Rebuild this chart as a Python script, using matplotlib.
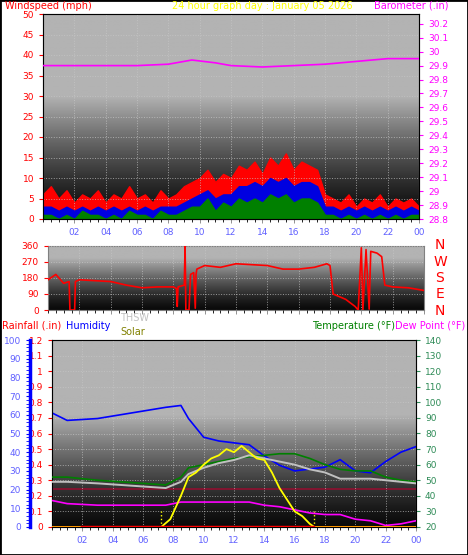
import numpy as np
import matplotlib
matplotlib.use('Agg')
import matplotlib.pyplot as plt

# --- data (hours 0..24) ---
wind_hours = np.arange(0, 24.5, 0.5)
gust = [6, 8, 5, 7, 4, 6, 5, 7, 4, 6, 5, 8, 5, 6, 4, 7, 5, 6, 8, 9, 10, 12, 9, 11, 10,
        13, 12, 14, 11, 15, 13, 16, 12, 14, 13, 12, 6, 5, 4, 6, 3, 5, 4, 6, 3, 5, 4, 5, 3]
wind_avg = [3, 3, 2, 3, 2, 3, 2, 3, 2, 3, 2, 3, 2, 3, 2, 3, 3, 3, 4, 5, 6, 7, 5, 6, 6,
            8, 8, 9, 8, 10, 9, 10, 8, 9, 9, 8, 3, 3, 2, 3, 2, 3, 2, 3, 2, 3, 2, 3, 2]
wind_low = [1, 1, 0, 1, 0, 2, 1, 1, 0, 1, 0, 2, 1, 1, 0, 2, 1, 1, 2, 3, 3, 5, 2, 4, 3,
            5, 4, 5, 4, 6, 5, 6, 4, 5, 5, 4, 1, 1, 0, 1, 0, 1, 0, 1, 0, 1, 0, 1, 1]

baro_hours = [0, 2, 4, 6, 8, 9.5, 11, 12, 14, 16, 18, 20, 22, 24]
baro = [29.90, 29.90, 29.90, 29.90, 29.91, 29.94, 29.92, 29.90, 29.89, 29.90, 29.91, 29.93, 29.95, 29.95]

dir_hours = [0, 0.5, 1, 1.35, 1.4, 1.7, 1.75, 2, 3, 4, 5, 6, 7, 8, 8.2, 8.25, 8.3, 8.7, 8.75, 8.8,
             9.0, 9.1, 9.3, 9.4, 9.45, 9.5, 10, 11, 12, 13, 14, 15, 16, 17, 17.8, 18.0, 18.2, 19,
             19.6, 19.8, 20.0, 20.1, 20.3, 20.5, 20.6, 21, 21.3, 21.5, 22, 23, 24]
wind_dir = [170, 200, 150, 160, 0, 0, 160, 170, 165, 160, 140, 125, 130, 130, 120, 20, 130, 140, 360, 0,
            0, 200, 210, 10, 200, 230, 250, 240, 260, 255, 250, 230, 230, 240, 260, 250, 90, 60,
            20, 0, 350, 0, 340, 5, 330, 320, 300, 140, 130, 125, 110]

t_hours = [0, 1, 3, 6, 7.5, 8.5, 9, 10, 11, 12, 13, 14, 15, 16, 17, 18, 19, 20, 21, 22, 23, 24]
humidity = [61, 57, 58, 62, 64, 65, 58, 48, 46, 45, 44, 38, 33, 30, 31, 32, 36, 30, 29, 35, 40, 43]
temperature = [52, 52, 50, 48, 47, 52, 58, 60, 62, 64, 65, 66, 67, 67, 64, 60, 57, 56, 56, 52, 50, 49]
thsw = [49, 49, 48, 46, 45, 49, 54, 58, 61, 63, 66, 64, 62, 60, 57, 55, 51, 51, 51, 50, 49, 48]
dew_point = [37, 35, 34, 34, 34, 36, 36, 36, 36, 36, 36, 34, 33, 31, 29, 28, 28, 25, 24, 21, 22, 24]

solar_hours = [0, 7.2, 7.8, 8.5, 9, 9.5, 10, 10.5, 11, 11.5, 12, 12.5, 13, 13.5, 14, 14.5, 15, 16, 16.5, 17, 17.3, 24]
solar = [20, 20, 25, 40, 52, 55, 60, 64, 66, 70, 68, 72, 68, 64, 63, 55, 45, 30, 27, 22, 20, 20]
sun_times = [7.2, 17.3]

W, H = 468, 555
fig = plt.figure(figsize=(W / 100, H / 100), dpi=100)
fig.patch.set_facecolor('white')
fig.add_artist(plt.Rectangle((0, 0), 1, 1, transform=fig.transFigure, fill=False, ec='black', lw=2))

tickcol = '#6060ff'
grad = np.linspace(0, 1, 256).reshape(-1, 1)
FS = 6.5


def ax_at(x0, y0, x1, y1):
    return fig.add_axes([x0 / W, 1 - y1 / H, (x1 - x0) / W, (y1 - y0) / H])


def background(ax, split=0.6):
    g = np.clip(grad / split, 0, 1) ** 1.3
    ax.imshow(0.04 + 0.66 * g, cmap='gray', vmin=0, vmax=1, aspect='auto',
              extent=[0, 1, 0, 1], transform=ax.transAxes, origin='lower', zorder=0)
    ax.grid(True, color='#c8c8c8', ls=':', lw=0.7, alpha=0.7)
    ax.set_axisbelow(False)


def style_x(ax, labels=True):
    ax.set_xlim(0, 24)
    ax.set_xticks(range(2, 25, 2))
    ax.set_xticks(np.arange(0, 24.5, 0.5), minor=True)
    if labels:
        ax.set_xticklabels(['%02d' % (h % 24) for h in range(2, 25, 2)], fontsize=FS)
    else:
        ax.set_xticklabels([])
    ax.tick_params(axis='x', colors='#808080', labelcolor=tickcol, length=3, width=0.6)
    for s in ax.spines.values():
        s.set_color('#808080')


# --- top: wind speed + barometer ---
ax1 = ax_at(43, 14, 419, 219)
background(ax1)
ax1.fill_between(wind_hours, gust, color='red', zorder=2)
ax1.fill_between(wind_hours, wind_avg, color='#0000e0', zorder=3)
ax1.fill_between(wind_hours, wind_low, color='green', zorder=4)
ax1.set_ylim(0, 50)
ax1.set_yticks(range(0, 51, 5))
ax1.tick_params(axis='y', colors='red', labelsize=FS, length=3)
style_x(ax1)
ax1b = ax1.twinx()
ax1b.plot(baro_hours, baro, color='#ff00ff', lw=1.2, zorder=5)
ax1b.set_ylim(28.8, 30.27)
ax1b.set_yticks(np.arange(28.8, 30.25, 0.1))
ax1b.set_yticklabels(['%g' % round(v, 1) for v in np.arange(28.8, 30.25, 0.1)])
ax1b.tick_params(axis='y', colors='#ff00ff', labelsize=FS, length=3)
fig.text(5 / W, 1 - 6 / H, 'Windspeed (mph)', color='red', fontsize=7, va='center')
fig.text(172 / W, 1 - 6 / H, '24 hour graph day : January 05 2026', color='yellow', fontsize=7, va='center')
fig.text(374 / W, 1 - 6 / H, 'Barometer (.in)', color='#ff00ff', fontsize=7, va='center')

# --- middle: wind direction ---
ax2 = ax_at(48, 246, 424, 310)
background(ax2, split=0.8)
ax2.plot(dir_hours, wind_dir, color='red', lw=1.2, zorder=3)
ax2.set_ylim(0, 360)
ax2.set_yticks(range(0, 361, 90))
ax2.tick_params(axis='y', colors='red', labelsize=FS, length=3)
style_x(ax2, labels=False)
for i, lab in enumerate(['N', 'W', 'S', 'E', 'N']):
    fig.text(440 / W, 1 - (245 + i * 16.5) / H, lab, color='red', fontsize=10, ha='center', va='center')

# --- bottom: rain / humidity / temperature ---
ax3 = ax_at(52, 340, 416, 527)
background(ax3)
ax3.set_ylim(0, 1.2)
ax3.set_yticks(np.arange(0, 1.21, 0.1))
ax3.set_yticklabels(['%g' % round(v, 1) for v in np.arange(0, 1.21, 0.1)])
ax3.tick_params(axis='y', colors='red', labelsize=FS, length=3)
ax3.axhline(0.245, color='#901030', lw=1.2, zorder=2)
style_x(ax3)

axt = ax3.twinx()
axt.set_ylim(20, 140)
axt.set_yticks(range(20, 141, 10))
axt.tick_params(axis='y', colors='#2e8b57', labelcolor='#2e8b57', labelsize=FS, length=3)
axt.plot(t_hours, temperature, color='#008000', lw=1.2, zorder=3)
axt.plot(t_hours, thsw, color='#c0c0c0', lw=1.4, zorder=4)
axt.plot(t_hours, dew_point, color='#ff00ff', lw=1.2, zorder=4)
axt.plot(solar_hours, solar, color='yellow', lw=1.3, zorder=5)
for st in sun_times:
    axt.plot([st, st], [20, 30], color='yellow', ls=':', lw=1)
axt.axhline(20.3, color='#ff8c00', lw=2, zorder=6)
axt.axhline(20.6, color='red', lw=1, zorder=7, xmin=0.08, xmax=0.72)
axt.set_xlim(0, 24)

axh = fig.add_axes([30 / W, 1 - 527 / H, 0.001, 187 / H])
axh.set_ylim(0, 100)
axh.set_yticks(range(0, 101, 10))
axh.set_yticks(range(0, 101, 2), minor=True)
axh.set_xticks([])
for k in ['top', 'right', 'bottom']:
    axh.spines[k].set_visible(False)
axh.spines['left'].set_color('blue')
axh.spines['left'].set_linewidth(2.5)
axh.tick_params(axis='y', which='both', colors='blue', labelcolor=tickcol, labelsize=FS, length=3)
ax3.plot(t_hours, np.array(humidity) / 100 * 1.2, color='#0000ff', lw=1.2, zorder=5)

fig.text(2 / W, 1 - 326 / H, 'Rainfall (.in)', color='red', fontsize=7, va='center')
fig.text(66 / W, 1 - 326 / H, 'Humidity', color='blue', fontsize=7, va='center')
fig.text(120 / W, 1 - 318 / H, 'THSW', color='#c0c0c0', fontsize=7, va='center')
fig.text(120 / W, 1 - 332 / H, 'Solar', color='#808000', fontsize=7, va='center')
fig.text(312 / W, 1 - 326 / H, 'Temperature (°F)', color='green', fontsize=7, va='center')
fig.text(465 / W, 1 - 326 / H, 'Dew Point (°F)', color='#ff00ff', fontsize=7, va='center', ha='right')

fig.savefig('out.png', dpi=100)
